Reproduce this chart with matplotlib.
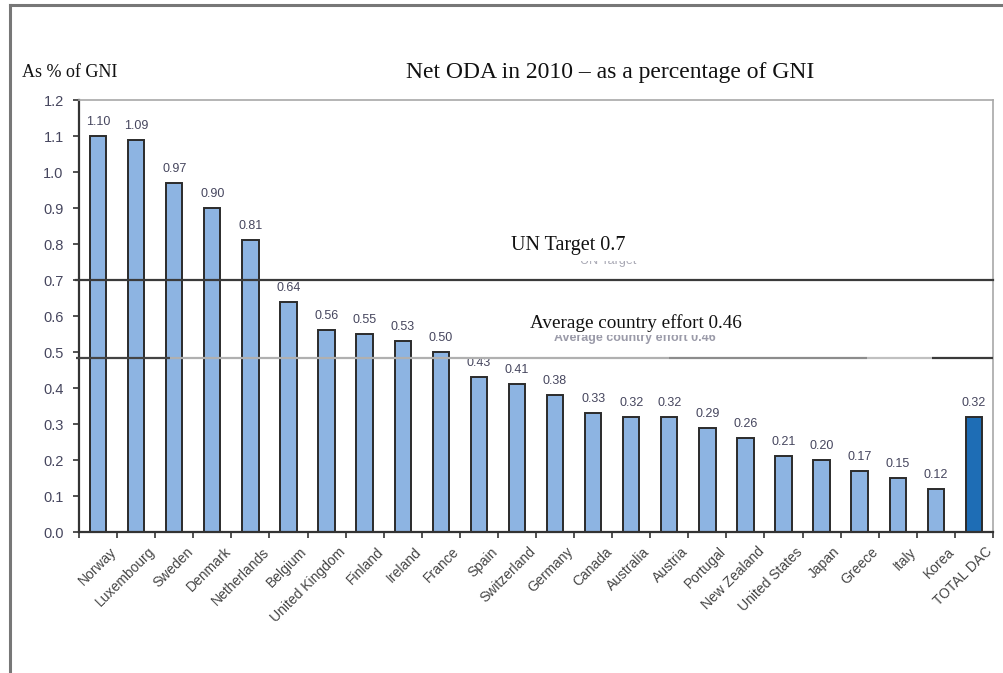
"""
Net ODA 2010 as % of GNI - DAC members bar chart.
"""
import numpy as np
import matplotlib
matplotlib.use('Agg')
import matplotlib.pyplot as plt
from matplotlib.lines import Line2D
from matplotlib.patches import Rectangle

countries = ['Norway', 'Luxembourg', 'Sweden', 'Denmark', 'Netherlands', 'Belgium',
             'United Kingdom', 'Finland', 'Ireland', 'France', 'Spain', 'Switzerland',
             'Germany', 'Canada', 'Australia', 'Austria', 'Portugal', 'New Zealand',
             'United States', 'Japan', 'Greece', 'Italy', 'Korea', 'TOTAL DAC']
oda_pct = [1.10, 1.09, 0.97, 0.90, 0.81, 0.64, 0.56, 0.55, 0.53, 0.50, 0.43, 0.41,
           0.38, 0.33, 0.32, 0.32, 0.29, 0.26, 0.21, 0.20, 0.17, 0.15, 0.12, 0.32]
y_ticks = [0.0, 0.1, 0.2, 0.3, 0.4, 0.5, 0.6, 0.7, 0.8, 0.9, 1.0, 1.1, 1.2]

UN_TARGET = 0.7
AVG_LINE = 0.483   # drawn level of the average-effort line
AVG_LABEL = 0.46

SERIF = ['Liberation Serif', 'DejaVu Serif']
SANS = ['Liberation Sans', 'DejaVu Sans']
TICK_COL = '#46465e'

fig = plt.figure(figsize=(10.04, 6.73), dpi=100)
ax = fig.add_axes([0.0787, 0.2095, 0.9103, 0.6419])

x = np.arange(len(countries))
colors = ['#8db4e2'] * (len(countries) - 1) + ['#1e6db5']
ax.bar(x, oda_pct, width=0.43, color=colors, edgecolor='#2b2b2b', linewidth=1.4, zorder=2)

for xi, v in zip(x, oda_pct):
    ax.text(xi, v + 0.022, f'{v:.2f}', ha='center', va='bottom', fontsize=9,
            color=TICK_COL, family=SANS, zorder=1)

ax.set_xlim(-0.5, len(countries) - 0.5)
ax.set_ylim(0, 1.2)
ax.set_yticks(y_ticks)
ax.set_yticklabels([f'{t:.1f}' for t in y_ticks], fontsize=10.5, color=TICK_COL, family=SANS)
ax.tick_params(axis='y', direction='out', length=4, width=1.2, color='#333333', pad=7)

# category boundaries carry the x ticks
ax.set_xticks(np.arange(len(countries) + 1) - 0.5, minor=False)
ax.set_xticklabels([])
ax.tick_params(axis='x', direction='out', length=4, width=1.2, color='#333333')
for xi, name in zip(x, countries):
    ax.text(xi + 0.3, -0.035, name, rotation=45, ha='right', va='top',
            rotation_mode='anchor', fontsize=10, color='#454545', family=SANS)

for side in ['left', 'bottom']:
    ax.spines[side].set_color('#333333')
    ax.spines[side].set_linewidth(1.6)
for side in ['top', 'right']:
    ax.spines[side].set_color('#a8a8a8')
    ax.spines[side].set_linewidth(1.2)

# reference lines
ax.plot([-0.58, len(countries) - 0.5], [UN_TARGET, UN_TARGET], color='#3a3a3a',
        linewidth=1.6, clip_on=False, zorder=3)
avg_segments = [(-0.58, 1.9, '#444444'), (1.9, 15.0, '#b0b0b0'),
                (15.0, 20.2, '#8c8c8c'), (20.2, 21.9, '#c0c0c0'),
                (21.9, len(countries) - 0.5, '#3a3a3a')]
for x0, x1, c in avg_segments:
    ax.plot([x0, x1], [AVG_LINE, AVG_LINE], color=c, linewidth=1.6,
            clip_on=False, zorder=3, solid_capstyle='butt')

# faded original captions underneath the overlay captions
ax.text(14.1, 0.538, f'Average country effort {AVG_LABEL:.2f}', ha='center', va='center',
        fontsize=9, color='#9a9aa8', family=SANS, fontweight='bold', zorder=1)
ax.text(13.4, 0.752, 'UN Target', ha='center', va='center', fontsize=9,
        color='#a8a8b4', family=SANS, zorder=1)
ax.add_patch(Rectangle((10.6, 0.548), 8.0, 0.07, facecolor='white', edgecolor='none', zorder=1.5))
ax.add_patch(Rectangle((10.6, 0.753), 6.0, 0.09, facecolor='white', edgecolor='none', zorder=1.5))
ax.text(12.34, 0.795, f'UN Target {UN_TARGET}', ha='center', va='center', fontsize=14.5,
        color='#111111', family=SERIF, zorder=4)
ax.text(14.13, 0.58, f'Average country effort {AVG_LABEL:.2f}', ha='center', va='center',
        fontsize=13.8, color='#111111', family=SERIF, zorder=4)

# titles
fig.text(0.022, 0.893, 'As % of GNI', fontsize=13, color='#111111', family=SERIF, va='center')
fig.text(0.608, 0.893, 'Net ODA in 2010 \u2013 as a percentage of GNI', fontsize=17,
         color='#111111', family=SERIF, ha='center', va='center')

# outer frame
fig.add_artist(Line2D([0.0095, 1.0], [0.9925, 0.9925], color='#777777', linewidth=2.2))
fig.add_artist(Line2D([0.0095, 0.0095], [0.0, 0.9925], color='#777777', linewidth=2.2))

fig.savefig('out.png', dpi=100)
